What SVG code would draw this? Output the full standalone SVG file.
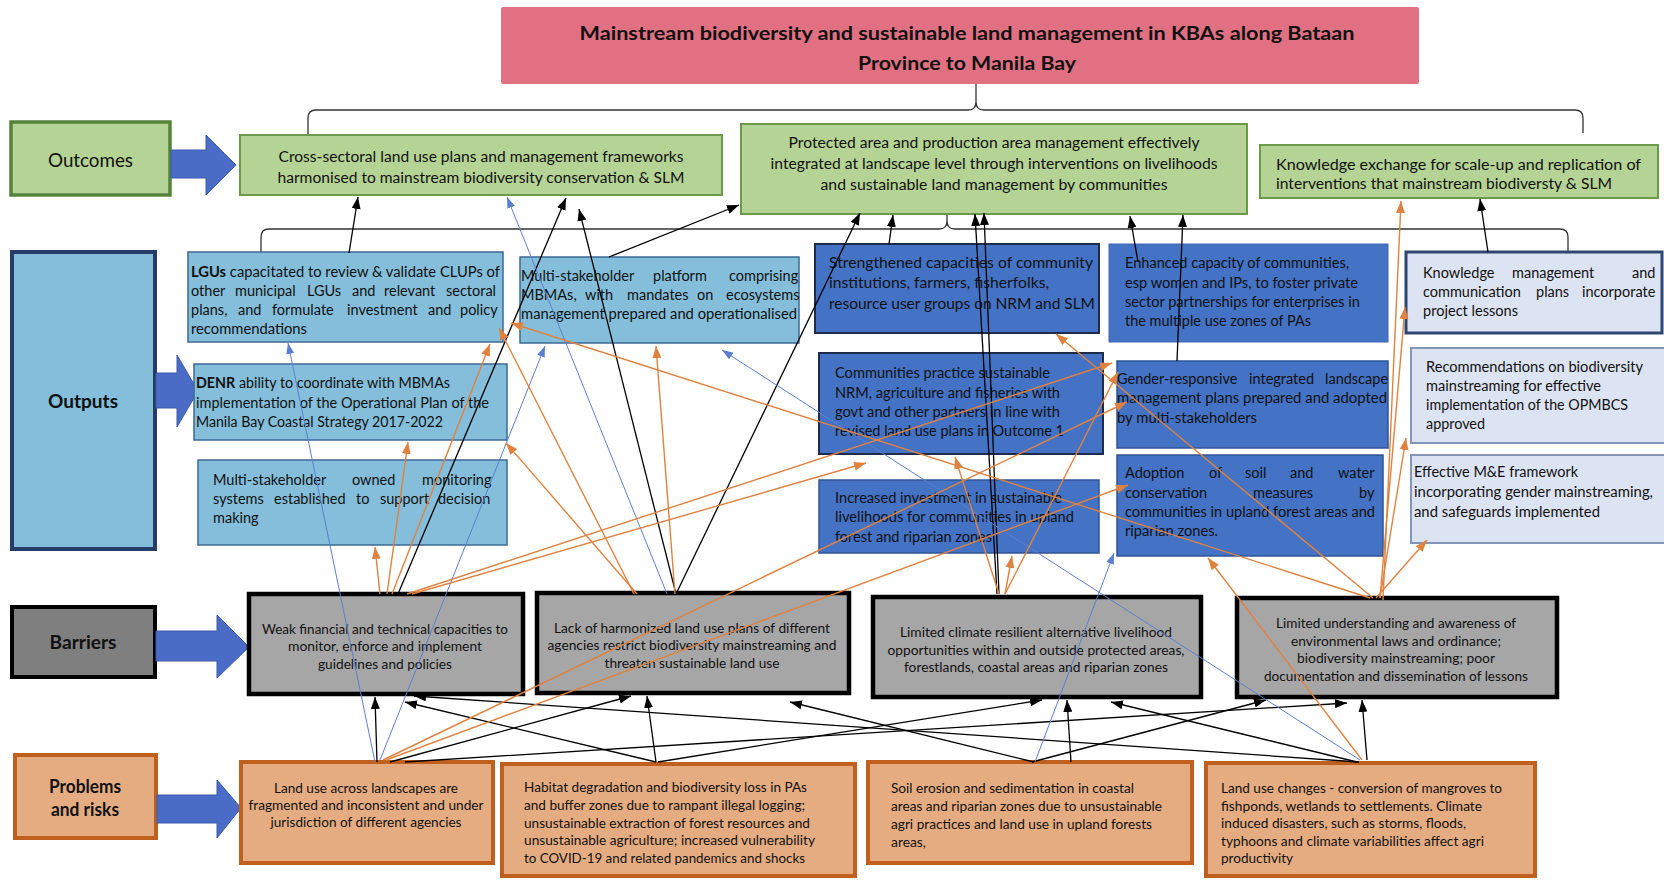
<svg xmlns="http://www.w3.org/2000/svg" width="1664" height="882" viewBox="0 0 1664 882">
<style>
.t{font-family:Lato,"Open Sans","Liberation Sans",sans-serif;font-size:14.5px;fill:#111}
.s{font-size:14px}
.c{text-anchor:middle}
.b{font-weight:bold}
.lab{font-family:Lato,"Open Sans","Liberation Sans",sans-serif;font-size:19px;fill:#111;text-anchor:middle}
.tt{font-family:Lato,"Open Sans","Liberation Sans",sans-serif;font-size:19px;font-weight:bold;fill:#111;text-anchor:middle}
.oc{fill:#B4D395;stroke:#6B9A4C;stroke-width:2}
.o1{fill:#84BEDA;stroke:#3D6A94;stroke-width:1.5}
.o2{fill:#4472C4;stroke:#2F5597;stroke-width:1.5}
.o2d{fill:#4472C4;stroke:#1E2B4A;stroke-width:2}
.o3{fill:#DCE3F2;stroke:#8496B8;stroke-width:2}
.br{fill:#A6A6A6;stroke:#000;stroke-width:4.5}
.pr{fill:#E5AC82;stroke:#C0601E;stroke-width:4}
.ba{fill:#4A6CC6;stroke:#3A5AA8;stroke-width:1}
.k{stroke:#000;stroke-width:1.3;fill:none;marker-end:url(#mk)}
.or{stroke:#E0823F;stroke-width:1.4;fill:none;marker-end:url(#mo)}
.bl{stroke:#5B7FD0;stroke-width:1;fill:none;marker-end:url(#mb)}
.brace{stroke:#333;stroke-width:1.3;fill:none}
</style>
<defs>
<marker id="mk" viewBox="0 0 12 9" refX="12" refY="4.5" markerWidth="12" markerHeight="9" orient="auto" markerUnits="userSpaceOnUse"><path d="M0,0 L12,4.5 L0,9 z" fill="#000"/></marker>
<marker id="mo" viewBox="0 0 12 9" refX="12" refY="4.5" markerWidth="12" markerHeight="9" orient="auto" markerUnits="userSpaceOnUse"><path d="M0,0 L12,4.5 L0,9 z" fill="#E0823F"/></marker>
<marker id="mb" viewBox="0 0 11 8" refX="11" refY="4" markerWidth="11" markerHeight="8" orient="auto" markerUnits="userSpaceOnUse"><path d="M0,0 L11,4 L0,8 z" fill="#5B7FD0"/></marker>
</defs>
<rect width="1664" height="882" fill="#fff"/>

<g id="title">
<rect x="501" y="7" width="918" height="77" rx="2" fill="#E27083"/>
<text class="tt" x="967" y="40" textLength="775" lengthAdjust="spacingAndGlyphs">Mainstream biodiversity and sustainable land management in KBAs along Bataan</text>
<text class="tt" x="967" y="70" textLength="218" lengthAdjust="spacingAndGlyphs">Province to Manila Bay</text>
</g>

<g id="braces">
<path class="brace" d="M308,135 V118 Q308,110 316,110 H968 Q976,110 976,102 V84 M976,102 Q976,110 984,110 H1575 Q1583,110 1583,118 V133"/>
<path class="brace" d="M261,253 V237 Q261,229 269,229 H939 Q947,229 947,221 V205 M947,221 Q947,229 955,229 H1560 Q1568,229 1568,237 V253"/>
</g>

<g id="label-outcomes">
<rect x="11" y="122" width="159" height="73" fill="#B4D395" stroke="#55833A" stroke-width="3.5"/>
<text class="lab" x="90.5" y="167" textLength="85" lengthAdjust="spacingAndGlyphs">Outcomes</text>
<polygon class="ba" points="171,150 206,150 206,135 236,165 206,195 206,178 171,178"/>
</g>
<g id="outcome1">
<rect class="oc" x="240" y="135" width="482" height="60"/>
<text class="t c" x="481" y="162" textLength="405" lengthAdjust="spacingAndGlyphs">Cross-sectoral land use plans and management frameworks</text>
<text class="t c" x="481" y="183" textLength="407" lengthAdjust="spacingAndGlyphs">harmonised to mainstream biodiversity conservation &amp; SLM</text>
</g>
<g id="outcome2">
<rect class="oc" x="741" y="124" width="506" height="90"/>
<text class="t c" x="994" y="148" textLength="411" lengthAdjust="spacingAndGlyphs">Protected area and production area management effectively</text>
<text class="t c" x="994" y="169" textLength="447" lengthAdjust="spacingAndGlyphs">integrated at landscape level through interventions on livelihoods</text>
<text class="t c" x="994" y="190" textLength="347" lengthAdjust="spacingAndGlyphs">and sustainable land management by communities</text>
</g>
<g id="outcome3">
<rect class="oc" x="1260" y="145" width="398" height="53"/>
<text class="t" x="1276" y="170" textLength="365" lengthAdjust="spacingAndGlyphs">Knowledge exchange for scale-up and replication of</text>
<text class="t" x="1276" y="189" textLength="336" lengthAdjust="spacingAndGlyphs">interventions that mainstream biodiversty &amp; SLM</text>
</g>

<g id="label-outputs">
<rect x="12" y="252" width="143" height="297" fill="#84BEDA" stroke="#253C66" stroke-width="4"/>
<text class="lab b" x="83" y="408" textLength="70" lengthAdjust="spacingAndGlyphs">Outputs</text>
<polygon class="ba" points="156,373 177,373 177,355 198,391 177,427 177,408 156,408"/>
</g>
<g id="output1-1">
<rect class="o1" x="188" y="252" width="315" height="90"/>
<text class="t" x="191" y="277" textLength="309" lengthAdjust="spacingAndGlyphs"><tspan class="b">LGUs</tspan> capacitated to review &amp; validate CLUPs of</text>
<text class="t" y="296"><tspan x="191">other</tspan><tspan x="235">municipal</tspan><tspan x="307">LGUs</tspan><tspan x="352">and</tspan><tspan x="384">relevant</tspan><tspan x="446">sectoral</tspan></text>
<text class="t" y="315"><tspan x="191">plans,</tspan><tspan x="238">and</tspan><tspan x="272">formulate</tspan><tspan x="347">investment</tspan><tspan x="428">and</tspan><tspan x="460">policy</tspan></text>
<text class="t" x="191" y="334" textLength="116" lengthAdjust="spacingAndGlyphs">recommendations</text>
</g>
<g id="output1-2">
<rect class="o1" x="520" y="257" width="279" height="86"/>
<text class="t" y="281"><tspan x="521">Multi-stakeholder</tspan><tspan x="653">platform</tspan><tspan x="729">comprising</tspan></text>
<text class="t" y="300"><tspan x="521">MBMAs,</tspan><tspan x="585">with</tspan><tspan x="627">mandates</tspan><tspan x="697">on</tspan><tspan x="726">ecosystems</tspan></text>
<text class="t" x="521" y="319" textLength="276" lengthAdjust="spacingAndGlyphs">management prepared and operationalised</text>
</g>
<g id="output1-3">
<rect class="o1" x="194" y="364" width="313" height="76"/>
<text class="t" x="196" y="388" textLength="254" lengthAdjust="spacingAndGlyphs"><tspan class="b">DENR</tspan> ability to coordinate with MBMAs</text>
<text class="t" x="196" y="408" textLength="293" lengthAdjust="spacingAndGlyphs">implementation of the Operational Plan of the</text>
<text class="t" x="196" y="427" textLength="247" lengthAdjust="spacingAndGlyphs">Manila Bay Coastal Strategy 2017-2022</text>
</g>
<g id="output1-4">
<rect class="o1" x="198" y="460" width="309" height="85"/>
<text class="t" y="485"><tspan x="213">Multi-stakeholder</tspan><tspan x="352">owned</tspan><tspan x="422">monitoring</tspan></text>
<text class="t" y="504"><tspan x="213">systems</tspan><tspan x="274">established</tspan><tspan x="356">to</tspan><tspan x="380">support</tspan><tspan x="438">decision</tspan></text>
<text class="t" x="213" y="523">making</text>
</g>
<g id="output2-1">
<rect class="o2d" x="815" y="244" width="284" height="89"/>
<text class="t" x="829" y="268" textLength="264" lengthAdjust="spacingAndGlyphs">Strengthened capacities of community</text>
<text class="t" x="829" y="288" textLength="220" lengthAdjust="spacingAndGlyphs">institutions, farmers, fisherfolks,</text>
<text class="t" x="829" y="309" textLength="266" lengthAdjust="spacingAndGlyphs">resource user groups on NRM and SLM</text>
</g>
<g id="output2-2">
<rect class="o2d" x="819" y="353" width="284" height="101"/>
<text class="t" x="835" y="378" textLength="215" lengthAdjust="spacingAndGlyphs">Communities practice sustainable</text>
<text class="t" x="835" y="398" textLength="225" lengthAdjust="spacingAndGlyphs">NRM, agriculture and fisheries with</text>
<text class="t" x="835" y="417" textLength="225" lengthAdjust="spacingAndGlyphs">govt and other partners in line with</text>
<text class="t" x="835" y="436" textLength="229" lengthAdjust="spacingAndGlyphs">revised land use plans in Outcome 1</text>
</g>
<g id="output2-3">
<rect class="o2" x="819" y="480" width="280" height="73"/>
<text class="t" x="835" y="503" textLength="227" lengthAdjust="spacingAndGlyphs">Increased investment in sustainable</text>
<text class="t" x="835" y="522" textLength="239" lengthAdjust="spacingAndGlyphs">livelihoods for communities in upland</text>
<text class="t" x="835" y="542" textLength="157" lengthAdjust="spacingAndGlyphs">forest and riparian zones</text>
</g>
<g id="output2-4">
<rect x="1109" y="244" width="279" height="98" fill="#4472C4" stroke="#3F66B0" stroke-width="1"/>
<text class="t" x="1125" y="268" textLength="224" lengthAdjust="spacingAndGlyphs">Enhanced capacity of communities,</text>
<text class="t" x="1125" y="288" textLength="233" lengthAdjust="spacingAndGlyphs">esp women and IPs, to foster private</text>
<text class="t" x="1125" y="307" textLength="235" lengthAdjust="spacingAndGlyphs">sector partnerships for enterprises in</text>
<text class="t" x="1125" y="326" textLength="186" lengthAdjust="spacingAndGlyphs">the multiple use zones of PAs</text>
</g>
<g id="output2-5">
<rect class="o2" x="1117" y="361" width="271" height="87"/>
<text class="t" y="384"><tspan x="1117">Gender-responsive</tspan><tspan x="1249">integrated</tspan><tspan x="1325">landscape</tspan></text>
<text class="t" x="1117" y="403" textLength="270" lengthAdjust="spacingAndGlyphs">management plans prepared and adopted</text>
<text class="t" x="1117" y="423" textLength="140" lengthAdjust="spacingAndGlyphs">by multi-stakeholders</text>
</g>
<g id="output2-6">
<rect class="o2" x="1117" y="455" width="266" height="101"/>
<text class="t" y="478"><tspan x="1125">Adoption</tspan><tspan x="1209">of</tspan><tspan x="1245">soil</tspan><tspan x="1290">and</tspan><tspan x="1338">water</tspan></text>
<text class="t" y="498"><tspan x="1125">conservation</tspan><tspan x="1253">measures</tspan><tspan x="1359">by</tspan></text>
<text class="t" x="1125" y="517" textLength="250" lengthAdjust="spacingAndGlyphs">communities in upland forest areas and</text>
<text class="t" x="1125" y="536" textLength="93" lengthAdjust="spacingAndGlyphs">riparian zones.</text>
</g>
<g id="output3-1">
<rect x="1406" y="252" width="256" height="81" fill="#DCE3F2" stroke="#2F4670" stroke-width="3"/>
<text class="t" y="278"><tspan x="1423">Knowledge</tspan><tspan x="1512">management</tspan><tspan x="1632">and</tspan></text>
<text class="t" y="297"><tspan x="1423">communication</tspan><tspan x="1536">plans</tspan><tspan x="1582">incorporate</tspan></text>
<text class="t" x="1423" y="316" textLength="95" lengthAdjust="spacingAndGlyphs">project lessons</text>
</g>
<g id="output3-2">
<rect class="o3" x="1411" y="348" width="255" height="95"/>
<text class="t" x="1426" y="372" textLength="217" lengthAdjust="spacingAndGlyphs">Recommendations on biodiversity</text>
<text class="t" x="1426" y="391" textLength="175" lengthAdjust="spacingAndGlyphs">mainstreaming for effective</text>
<text class="t" x="1426" y="410" textLength="202" lengthAdjust="spacingAndGlyphs">implementation of the OPMBCS</text>
<text class="t" x="1426" y="429" textLength="59" lengthAdjust="spacingAndGlyphs">approved</text>
</g>
<g id="output3-3">
<rect class="o3" x="1411" y="455" width="255" height="88"/>
<text class="t" x="1414" y="477" textLength="164" lengthAdjust="spacingAndGlyphs">Effective M&amp;E framework</text>
<text class="t" x="1414" y="497" textLength="239" lengthAdjust="spacingAndGlyphs">incorporating gender mainstreaming,</text>
<text class="t" x="1414" y="517" textLength="186" lengthAdjust="spacingAndGlyphs">and safeguards implemented</text>
</g>

<g id="label-barriers">
<rect x="12" y="607" width="143" height="70" fill="#7F7F7F" stroke="#000" stroke-width="4"/>
<text class="lab b" x="83" y="649" textLength="67" lengthAdjust="spacingAndGlyphs">Barriers</text>
<polygon class="ba" points="156,631 217,631 217,615 249,647 217,678 217,661 156,661"/>
</g>
<g id="barrier1">
<rect class="br" x="249" y="594" width="274" height="100"/>
<text class="t s c" x="385" y="634" textLength="246" lengthAdjust="spacingAndGlyphs">Weak financial and technical capacities to</text>
<text class="t s c" x="385" y="651" textLength="194" lengthAdjust="spacingAndGlyphs">monitor, enforce and implement</text>
<text class="t s c" x="385" y="669" textLength="134" lengthAdjust="spacingAndGlyphs">guidelines and policies</text>
</g>
<g id="barrier2">
<rect class="br" x="537" y="593" width="312" height="100"/>
<text class="t s c" x="692" y="633" textLength="276" lengthAdjust="spacingAndGlyphs">Lack of harmonized land use plans of different</text>
<text class="t s c" x="692" y="650" textLength="289" lengthAdjust="spacingAndGlyphs">agencies restrict biodiversity mainstreaming and</text>
<text class="t s c" x="692" y="668" textLength="175" lengthAdjust="spacingAndGlyphs">threaten sustainable land use</text>
</g>
<g id="barrier3">
<rect class="br" x="873" y="597" width="328" height="100"/>
<text class="t s c" x="1036" y="637" textLength="272" lengthAdjust="spacingAndGlyphs">Limited climate resilient alternative livelihood</text>
<text class="t s c" x="1036" y="655" textLength="297" lengthAdjust="spacingAndGlyphs">opportunities within and outside protected areas,</text>
<text class="t s c" x="1036" y="672" textLength="264" lengthAdjust="spacingAndGlyphs">forestlands, coastal areas and riparian zones</text>
</g>
<g id="barrier4">
<rect class="br" x="1237" y="598" width="320" height="99"/>
<text class="t s c" x="1396" y="628" textLength="240" lengthAdjust="spacingAndGlyphs">Limited understanding and awareness of</text>
<text class="t s c" x="1396" y="646" textLength="210" lengthAdjust="spacingAndGlyphs">environmental laws and ordinance;</text>
<text class="t s c" x="1396" y="663" textLength="198" lengthAdjust="spacingAndGlyphs">biodiversity mainstreaming; poor</text>
<text class="t s c" x="1396" y="681" textLength="264" lengthAdjust="spacingAndGlyphs">documentation and dissemination of lessons</text>
</g>

<g id="label-problems">
<rect x="15" y="755" width="141" height="83" fill="#E5AC82" stroke="#C0601E" stroke-width="4"/>
<text class="lab b" x="85" y="793" font-size="18" textLength="72" lengthAdjust="spacingAndGlyphs">Problems</text>
<text class="lab b" x="85" y="816" font-size="18" textLength="68" lengthAdjust="spacingAndGlyphs">and risks</text>
<polygon class="ba" points="157,795 217,795 217,780 241,808 217,838 217,823 157,823"/>
</g>
<g id="problem1">
<rect class="pr" x="241" y="762" width="252" height="101"/>
<text class="t s c" x="366" y="793" textLength="184" lengthAdjust="spacingAndGlyphs">Land use across landscapes are</text>
<text class="t s c" x="366" y="810" textLength="235" lengthAdjust="spacingAndGlyphs">fragmented and inconsistent and under</text>
<text class="t s c" x="366" y="827" textLength="191" lengthAdjust="spacingAndGlyphs">jurisdiction of different agencies</text>
</g>
<g id="problem2">
<rect class="pr" x="502" y="764" width="353" height="112"/>
<text class="t s" x="524" y="792" textLength="283" lengthAdjust="spacingAndGlyphs">Habitat degradation and biodiversity loss in PAs</text>
<text class="t s" x="524" y="810" textLength="281" lengthAdjust="spacingAndGlyphs">and buffer zones due to rampant illegal logging;</text>
<text class="t s" x="524" y="828" textLength="286" lengthAdjust="spacingAndGlyphs">unsustainable extraction of forest resources and</text>
<text class="t s" x="524" y="845" textLength="291" lengthAdjust="spacingAndGlyphs">unsustainable agriculture; increased vulnerability</text>
<text class="t s" x="524" y="863" textLength="281" lengthAdjust="spacingAndGlyphs">to COVID-19 and related pandemics and shocks</text>
</g>
<g id="problem3">
<rect class="pr" x="868" y="762" width="324" height="101"/>
<text class="t s" x="891" y="793" textLength="243" lengthAdjust="spacingAndGlyphs">Soil erosion and sedimentation in coastal</text>
<text class="t s" x="891" y="811" textLength="271" lengthAdjust="spacingAndGlyphs">areas and riparian zones due to unsustainable</text>
<text class="t s" x="891" y="829" textLength="261" lengthAdjust="spacingAndGlyphs">agri practices and land use in upland forests</text>
<text class="t s" x="891" y="847" textLength="35" lengthAdjust="spacingAndGlyphs">areas,</text>
</g>
<g id="problem4">
<rect class="pr" x="1206" y="763" width="329" height="113"/>
<text class="t s" x="1221" y="793" textLength="281" lengthAdjust="spacingAndGlyphs">Land use changes - conversion of mangroves to</text>
<text class="t s" x="1221" y="811" textLength="261" lengthAdjust="spacingAndGlyphs">fishponds, wetlands to settlements. Climate</text>
<text class="t s" x="1221" y="828" textLength="245" lengthAdjust="spacingAndGlyphs">induced disasters, such as storms, floods,</text>
<text class="t s" x="1221" y="846" textLength="263" lengthAdjust="spacingAndGlyphs">typhoons and climate variabilities affect agri</text>
<text class="t s" x="1221" y="863" textLength="72" lengthAdjust="spacingAndGlyphs">productivity</text>
</g>

<g id="connectors">
<path class="k" d="M377,762 L375,697"/>
<path class="k" d="M656,762 L405,702"/>
<path class="k" d="M1359,762 L414,696"/>
<path class="k" d="M390,762 L631,696"/>
<path class="k" d="M656,762 L647,696"/>
<path class="k" d="M1034,762 L790,702"/>
<path class="k" d="M658,762 L1042,700"/>
<path class="k" d="M1071,762 L1067,700"/>
<path class="k" d="M1357,762 L1111,702"/>
<path class="k" d="M1032,762 L1266,700"/>
<path class="k" d="M405,762 L1347,703"/>
<path class="k" d="M1367,760 L1362,700"/>

<path class="k" d="M349,253 L358,197"/>
<path class="k" d="M398,594 L566,198"/>
<path class="k" d="M676,594 L579,209"/>
<path class="k" d="M609,257 L739,205"/>
<path class="k" d="M676,594 L860,213"/>
<path class="k" d="M889,244 L893,215"/>
<path class="k" d="M997,594 L975,214"/>
<path class="k" d="M999,594 L984,213"/>
<path class="k" d="M1138,262 L1130,216"/>
<path class="k" d="M1177,361 L1183,215"/>
<path class="k" d="M1488,252 L1480,199"/>

<path class="bl" d="M375,762 L288,343"/>
<path class="bl" d="M380,760 L545,346"/>
<path class="bl" d="M667,594 L507,197"/>
<path class="bl" d="M1360,760 L722,350"/>
<path class="bl" d="M1035,762 L1114,553"/>

<path class="or" d="M380,594 L375,547"/>
<path class="or" d="M387,594 L408,442"/>
<path class="or" d="M392,594 L490,344"/>
<path class="or" d="M412,594 L866,463"/>
<path class="or" d="M407,594 L1112,363"/>
<path class="or" d="M634,594 L499,328"/>
<path class="or" d="M637,594 L506,443"/>
<path class="or" d="M675,594 L656,346"/>
<path class="or" d="M383,760 L1127,402"/>
<path class="or" d="M386,760 L1128,485"/>
<path class="or" d="M999,594 L955,457"/>
<path class="or" d="M1005,594 L1012,556"/>
<path class="or" d="M1005,594 L1118,372"/>
<path class="or" d="M1383,600 L1401,201"/>
<path class="or" d="M1380,598 L1405,307"/>
<path class="or" d="M1380,598 L1406,438"/>
<path class="or" d="M1376,598 L1427,540"/>
<path class="or" d="M1373,598 L1056,334"/>
<path class="or" d="M1370,598 L511,323"/>
<path class="or" d="M1362,760 L1208,558"/>
</g>
</svg>
